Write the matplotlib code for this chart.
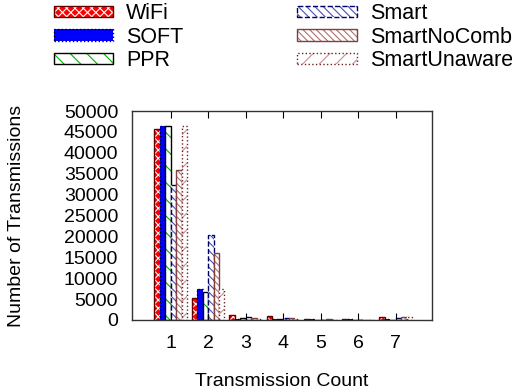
import matplotlib
matplotlib.use("Agg")
import matplotlib.pyplot as plt
import numpy as np
from matplotlib.legend_handler import HandlerTuple

plt.rcParams['font.family'] = ['Liberation Sans', 'DejaVu Sans']
plt.rcParams['hatch.linewidth'] = 0.8

counts = [1, 2, 3, 4, 5, 6, 7]
series = ["WiFi", "SOFT", "PPR", "Smart", "SmartNoComb", "SmartUnaware"]
wifi = [45600, 5200, 1200, 900, 300, 300, 700]
soft = [46300, 7300, 200, 200, 200, 200, 200]
ppr = [46300, 6700, 500, 300, 100, 100, 100]
smart = [32300, 20300, 700, 500, 100, 100, 400]
smartnocomb = [35900, 16000, 500, 400, 150, 100, 700]
smartunaware = [46300, 7400, 300, 300, 100, 100, 600]
values = [wifi, soft, ppr, smart, smartnocomb, smartunaware]

styles = [
    dict(face='#ff0000', hcol='white', hatch='xxxx', border='#600000', ls='-'),
    dict(face='#0000ff', hcol='#0000ff', hatch=None, border='black', ls=':'),
    dict(face='white', hcol='#00b000', hatch='\\\\', border='black', ls='-'),
    dict(face='white', hcol='#5050b0', hatch='\\\\\\\\', border='#00006a', ls='--'),
    dict(face='white', hcol='#b07070', hatch='\\\\\\\\\\', border='#804040', ls='-'),
    dict(face='white', hcol='#c89090', hatch='//', border='#702020', ls=':'),
]

fig = plt.figure(figsize=(5.12, 3.92), dpi=100)
ax = fig.add_axes([132/512, 1-320/392, 300/512, 209/392])

x = np.array(counts, dtype=float)
w = 0.145
handles = []
for i, (name, vals, st) in enumerate(zip(series, values, styles)):
    pos = x + (i - 2.5) * w
    b1 = ax.bar(pos, vals, w, color=st['face'], edgecolor=st['hcol'],
                hatch=st['hatch'], linewidth=0)
    b2 = ax.bar(pos, vals, w, fill=False, edgecolor=st['border'],
                linewidth=1.0, linestyle=st['ls'])
    handles.append((b1.patches[0], b2.patches[0]))

ax.set_xlim(-0.03, 7.97)
ax.set_ylim(0, 50000)
ax.set_xticks(counts)
ax.set_xticklabels([str(c) for c in counts])
ax.set_yticks(np.arange(0, 50001, 5000))
ax.tick_params(axis='x', direction='in', length=5, top=True, labelsize=14, pad=11)
ax.tick_params(axis='y', length=0, labelsize=14, pad=10)
for s in ax.spines.values():
    s.set_color('#333333')
    s.set_linewidth(1.0)

ax.set_ylabel("Number of Transmissions", fontsize=14, labelpad=28)
ax.set_xlabel("Transmission Count", fontsize=14, labelpad=15)

fig.legend(handles, series, ncol=2, loc='upper left',
           bbox_to_anchor=(54/512, 1 - 3/392), frameon=False,
           fontsize=15.5, handlelength=2.75, handleheight=0.45,
           handletextpad=0.6, columnspacing=5.3, labelspacing=0.12,
           borderpad=0, borderaxespad=0,
           handler_map={tuple: HandlerTuple(ndivide=1, pad=0)})

fig.savefig("out.png", dpi=100)
